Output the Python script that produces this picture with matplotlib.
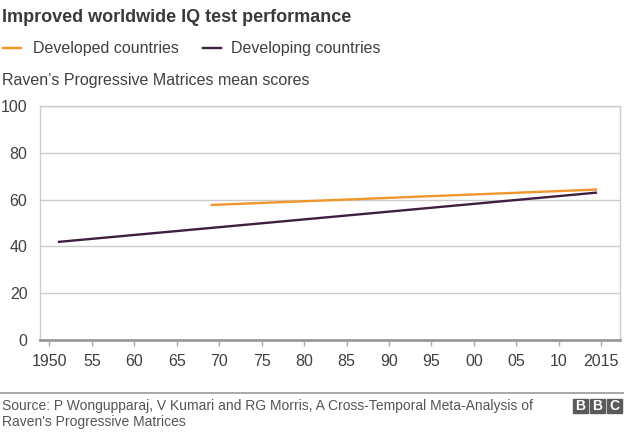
import matplotlib
matplotlib.use("Agg")
import matplotlib.pyplot as plt
from matplotlib.lines import Line2D
from matplotlib.patches import Rectangle

# dados
anos_desenvolvidos = [1969, 2014.5]
notas_desenvolvidos = [57.7, 64.3]
anos_em_desenvolvimento = [1951, 2014.5]
notas_em_desenvolvimento = [41.9, 63.0]

ticks_x = [1950, 1955, 1960, 1965, 1970, 1975, 1980, 1985, 1990, 1995, 2000, 2005, 2010, 2015]
rotulos_x = ["1950", "55", "60", "65", "70", "75", "80", "85", "90", "95", "00", "05", "10", "2015"]
ticks_y = [0, 20, 40, 60, 80, 100]

titulo = "Improved worldwide IQ test performance"
subtitulo = "Raven\u2019s Progressive Matrices mean scores"
nomes = ["Developed countries", "Developing countries"]
fonte = "Source: P Wongupparaj, V Kumari and RG Morris, A Cross-Temporal Meta-Analysis of\nRaven's Progressive Matrices"

laranja = "#f0962c"
roxo = "#3e1f40"
cinza_texto = "#404040"

plt.rcParams["font.family"] = ["Liberation Sans", "DejaVu Sans"]

W, H = 624, 433
fig = plt.figure(figsize=(W / 100, H / 100), dpi=100)

def fx(px):
    return px / W

def fy(py):
    return 1 - py / H

# área do gráfico
ax = fig.add_axes([fx(40), fy(340), fx(620) - fx(40), fy(106) - fy(340)])
ax.plot(anos_em_desenvolvimento, notas_em_desenvolvimento, color=roxo, linewidth=1.7, solid_capstyle="butt", zorder=3)
ax.plot(anos_desenvolvidos, notas_desenvolvidos, color=laranja, linewidth=1.7, solid_capstyle="butt", zorder=3)

ax.set_xlim(1948.9, 2017.2)
ax.set_ylim(0, 100)
ax.set_xticks(ticks_x)
ax.set_xticklabels(rotulos_x)
ax.set_yticks(ticks_y)
ax.tick_params(axis="x", length=4, width=1, color="#aaaaaa", pad=6, labelsize=11.5, labelcolor=cinza_texto, direction="out")
ax.tick_params(axis="y", length=0, pad=9, labelsize=11.5, labelcolor=cinza_texto)
ax.grid(axis="y", color="#cccccc", linewidth=1)
ax.set_axisbelow(True)
for lado in ["left", "right", "top"]:
    ax.spines[lado].set_color("#cccccc")
    ax.spines[lado].set_linewidth(1)
ax.spines["bottom"].set_color("#999999")
ax.spines["bottom"].set_linewidth(2)

# título e subtítulo
fig.text(fx(2), fy(17), titulo, fontsize=13, fontweight="bold", color="#3a3a3a", va="center", ha="left")
fig.text(fx(2), fy(80), subtitulo, fontsize=11.5, color=cinza_texto, va="center", ha="left")

# legenda manual
for x0, xt, cor, nome in [(3, 33, laranja, nomes[0]), (203, 231, roxo, nomes[1])]:
    fig.add_artist(Line2D([fx(x0), fx(x0 + 18)], [fy(48), fy(48)], color=cor, linewidth=1.7))
    fig.text(fx(xt), fy(48), nome, fontsize=11.5, color=cinza_texto, va="center", ha="left")

# rodapé
fig.add_artist(Line2D([0, 1], [fy(393), fy(393)], color="#999999", linewidth=1.2))
fig.text(fx(2), fy(414), fonte, fontsize=10, color="#555555", va="center", ha="left", linespacing=1.15)

# logo BBC
for i, letra in enumerate("BBC"):
    x0 = 573 + i * 17
    fig.add_artist(Rectangle((fx(x0), fy(413)), fx(15), fy(399) - fy(413), transform=fig.transFigure, color="#5a5a5a"))
    fig.text(fx(x0 + 7.5), fy(406), letra, fontsize=10, fontweight="bold", color="white", ha="center", va="center")

plt.savefig("out.png", dpi=100)
